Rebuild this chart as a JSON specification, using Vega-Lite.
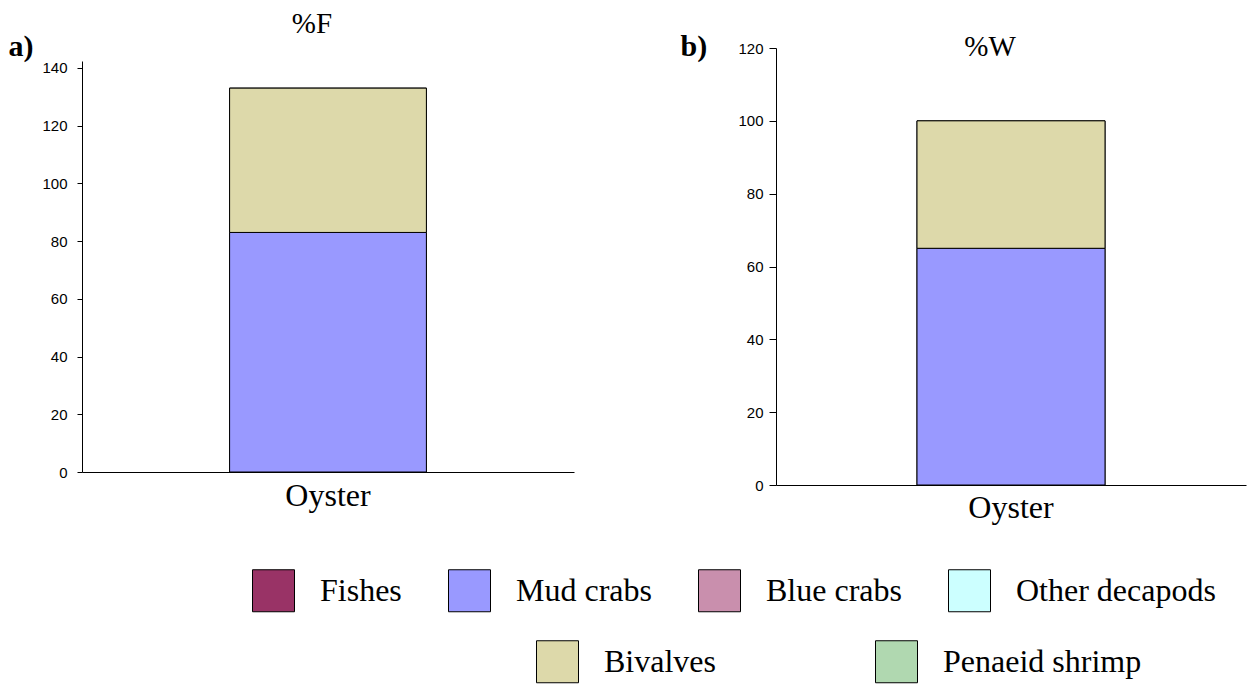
{
  "$schema": "https://vega.github.io/schema/vega-lite/v6.json",
  "background": "white",
  "padding": {"left": 8, "top": 10, "right": 5, "bottom": 5},
  "data": {"values": [
    {"panel": "a", "prey": "Oyster", "taxon": "Mud crabs", "value": 83},
    {"panel": "a", "prey": "Oyster", "taxon": "Bivalves", "value": 50},
    {"panel": "b", "prey": "Oyster", "taxon": "Mud crabs", "value": 65},
    {"panel": "b", "prey": "Oyster", "taxon": "Bivalves", "value": 35}
  ]},
  "bounds": "flush",
  "center": {"row": true},
  "spacing": 202,
  "hconcat": [
    {
      "width": 492,
      "height": 411,
      "title": {"text": "%F", "font": "Liberation Serif", "fontSize": 29, "fontWeight": "normal", "color": "#000", "baseline": "alphabetic", "offset": -31, "dx": -16, "anchor": "middle"},
      "transform": [{"filter": "datum.panel === 'a'"}],
      "encoding": {
        "x": {"field": "prey", "type": "nominal", "scale": {"paddingInner": 0, "paddingOuter": 0.75},
          "axis": {"title": null, "labelAngle": 0, "ticks": false, "labelPadding": 8, "labelFont": "Liberation Serif", "labelFontSize": 32}},
        "y": {"field": "value", "type": "quantitative", "stack": "zero", "scale": {"domain": [0, 142.4], "nice": false, "zero": true},
          "axis": {"values": [0, 20, 40, 60, 80, 100, 120, 140], "tickSize": 5, "labelPadding": 10,
            "title": "a)", "titleAngle": 0, "titleX": -74, "titleY": -6, "titleAlign": "left", "titleBaseline": "alphabetic",
            "titleFont": "Liberation Serif", "titleFontSize": 30, "titleFontWeight": "bold", "titleColor": "#000"}},
        "order": {"field": "taxon", "sort": "descending"}
      },
      "layer": [
        {
          "mark": {"type": "bar", "stroke": "#000", "strokeWidth": 1},
          "encoding": {
            "color": {"field": "taxon", "type": "nominal",
              "scale": {"domain": ["Fishes", "Mud crabs", "Blue crabs", "Other decapods", "Bivalves", "Penaeid shrimp"],
                        "range": ["#993366", "#9999FF", "#C98FAD", "#CCFFFF", "#DDD9AA", "#B0D8B0"]},
              "legend": {"values": ["Fishes", "Mud crabs", "Blue crabs", "Other decapods"], "orient": "none", "legendX": 170, "legendY": 521,
                "direction": "horizontal", "columns": 4, "title": null, "padding": 0,
                "symbolType": "square", "symbolSize": 1764, "symbolStrokeColor": "#000", "symbolStrokeWidth": 1, "symbolOpacity": 1,
                "labelFont": "Liberation Serif", "labelFontSize": 32, "labelColor": "#000", "labelOffset": 25, "labelLimit": 400, "columnPadding": 44}}
          }
        },
        {
          "mark": {"type": "bar", "stroke": "#000", "strokeWidth": 1},
          "encoding": {
            "fill": {"field": "taxon", "type": "nominal",
              "scale": {"domain": ["Bivalves", "Penaeid shrimp", "Fishes", "Mud crabs", "Blue crabs", "Other decapods"],
                        "range": ["#DDD9AA", "#B0D8B0", "#993366", "#9999FF", "#C98FAD", "#CCFFFF"]},
              "legend": {"values": ["Bivalves", "Penaeid shrimp"], "orient": "none", "legendX": 454, "legendY": 592,
                "direction": "horizontal", "columns": 2, "title": null, "padding": 0,
                "symbolType": "square", "symbolSize": 1764, "symbolStrokeColor": "#000", "symbolStrokeWidth": 1, "symbolOpacity": 1,
                "labelFont": "Liberation Serif", "labelFontSize": 32, "labelColor": "#000", "labelOffset": 25, "labelLimit": 400, "columnPadding": 157}}
          }
        }
      ]
    },
    {
      "width": 470,
      "height": 437,
      "title": {"text": "%W", "font": "Liberation Serif", "fontSize": 29, "fontWeight": "normal", "color": "#000", "baseline": "alphabetic", "offset": -54, "dx": -21, "anchor": "middle"},
      "transform": [{"filter": "datum.panel === 'b'"}],
      "encoding": {
        "x": {"field": "prey", "type": "nominal", "scale": {"paddingInner": 0, "paddingOuter": 0.75},
          "axis": {"title": null, "labelAngle": 0, "ticks": false, "labelPadding": 7, "labelFont": "Liberation Serif", "labelFontSize": 32}},
        "y": {"field": "value", "type": "quantitative", "stack": "zero", "scale": {"domain": [0, 120], "nice": false, "zero": true},
          "axis": {"values": [0, 20, 40, 60, 80, 100, 120], "tickSize": 7, "labelPadding": 6,
            "title": "b)", "titleAngle": 0, "titleX": -96, "titleY": 7, "titleAlign": "left", "titleBaseline": "alphabetic",
            "titleFont": "Liberation Serif", "titleFontSize": 30, "titleFontWeight": "bold", "titleColor": "#000"}},
        "order": {"field": "taxon", "sort": "descending"}
      },
      "layer": [
        {
          "mark": {"type": "bar", "stroke": "#000", "strokeWidth": 1},
          "encoding": {
            "color": {"field": "taxon", "type": "nominal",
              "scale": {"domain": ["Fishes", "Mud crabs", "Blue crabs", "Other decapods", "Bivalves", "Penaeid shrimp"],
                        "range": ["#993366", "#9999FF", "#C98FAD", "#CCFFFF", "#DDD9AA", "#B0D8B0"]},
              "legend": {"values": ["Fishes", "Mud crabs", "Blue crabs", "Other decapods"], "orient": "none", "legendX": 170, "legendY": 521,
                "direction": "horizontal", "columns": 4, "title": null, "padding": 0,
                "symbolType": "square", "symbolSize": 1764, "symbolStrokeColor": "#000", "symbolStrokeWidth": 1, "symbolOpacity": 1,
                "labelFont": "Liberation Serif", "labelFontSize": 32, "labelColor": "#000", "labelOffset": 25, "labelLimit": 400, "columnPadding": 44}}
          }
        },
        {
          "mark": {"type": "bar", "stroke": "#000", "strokeWidth": 1},
          "encoding": {
            "fill": {"field": "taxon", "type": "nominal",
              "scale": {"domain": ["Bivalves", "Penaeid shrimp", "Fishes", "Mud crabs", "Blue crabs", "Other decapods"],
                        "range": ["#DDD9AA", "#B0D8B0", "#993366", "#9999FF", "#C98FAD", "#CCFFFF"]},
              "legend": {"values": ["Bivalves", "Penaeid shrimp"], "orient": "none", "legendX": 454, "legendY": 592,
                "direction": "horizontal", "columns": 2, "title": null, "padding": 0,
                "symbolType": "square", "symbolSize": 1764, "symbolStrokeColor": "#000", "symbolStrokeWidth": 1, "symbolOpacity": 1,
                "labelFont": "Liberation Serif", "labelFontSize": 32, "labelColor": "#000", "labelOffset": 25, "labelLimit": 400, "columnPadding": 157}}
          }
        }
      ]
    }
  ],
  "config": {
    "view": {"stroke": null},
    "axis": {"grid": false, "labelFont": "Liberation Sans", "labelFontSize": 15, "labelColor": "#000", "domainColor": "#000", "tickColor": "#000", "domainWidth": 1}
  }
}
